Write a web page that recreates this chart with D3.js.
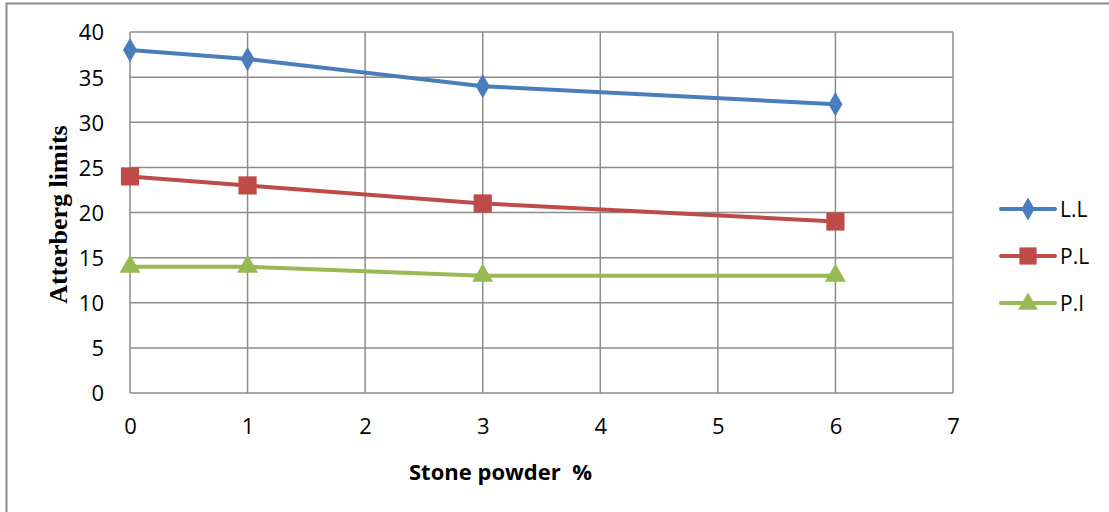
<!DOCTYPE html>
<html>
<head>
<meta charset="utf-8">
<script src="https://cdn.jsdelivr.net/npm/d3@7"></script>
<style>
  body { margin: 0; background: #fff; }
  svg { display: block; }
</style>
</head>
<body>
<div id="chart"></div>
<script>
// data
var stonePowder = [0, 1, 3, 6];
var liquidLimit = [38, 37, 34, 32];
var plasticLimit = [24, 23, 21, 19];
var plasticityIndex = [14, 14, 13, 13];
var seriesNames = ["L.L", "P.L", "P.I"];
var xTicks = [0, 1, 2, 3, 4, 5, 6, 7];
var yTicks = [0, 5, 10, 15, 20, 25, 30, 35, 40];

var svgWidth = 1109;
var svgHeight = 512;

var margin = { top: 32, left: 130, right: 156, bottom: 119 };
var width = svgWidth - margin.left - margin.right;
var height = svgHeight - margin.top - margin.bottom;

var svg = d3.select("#chart")
    .append("svg")
    .attr("width", svgWidth)
    .attr("height", svgHeight);

// outer chart border
svg.append("rect")
    .attr("x", 6.5)
    .attr("y", 3.5)
    .attr("width", svgWidth + 10)
    .attr("height", svgHeight + 10)
    .attr("fill", "none")
    .attr("stroke", "#8c8c8c")
    .attr("stroke-width", 2);

var chartGroup = svg.append("g")
    .attr("transform", `translate(${margin.left}, ${margin.top})`);

var x = d3.scaleLinear().domain([0, 7]).range([0, width]);
var y = d3.scaleLinear().domain([0, 40]).range([height, 0]);

// gridlines
chartGroup.append("g")
    .selectAll("line")
    .data(yTicks)
    .enter()
    .append("line")
    .attr("x1", 0)
    .attr("x2", width)
    .attr("y1", d => y(d))
    .attr("y2", d => y(d))
    .attr("stroke", "#8c8c8c")
    .attr("stroke-width", 1.5);

chartGroup.append("g")
    .selectAll("line")
    .data(xTicks)
    .enter()
    .append("line")
    .attr("x1", d => x(d))
    .attr("x2", d => x(d))
    .attr("y1", 0)
    .attr("y2", height)
    .attr("stroke", "#8c8c8c")
    .attr("stroke-width", 1.5);

// axes (labels only)
var xAxis = d3.axisBottom(x).tickValues(xTicks).tickFormat(d3.format("d")).tickSize(0).tickPadding(25);
var yAxis = d3.axisLeft(y).tickValues(yTicks).tickFormat(d3.format("d")).tickSize(0).tickPadding(26);

var gx = chartGroup.append("g")
    .attr("transform", `translate(0, ${height})`)
    .call(xAxis);
var gy = chartGroup.append("g").call(yAxis);

[gx, gy].forEach(function(g) {
    g.select(".domain").remove();
    g.attr("font-family", "'Open Sans', sans-serif").attr("font-size", 22);
    g.selectAll("text").attr("fill", "#000");
});
gy.selectAll("text").attr("dy", "0.36em");

// axis titles
chartGroup.append("text")
    .attr("x", width / 2 - 41)
    .attr("y", height + 87)
    .attr("text-anchor", "middle")
    .attr("font-family", "'Open Sans', sans-serif")
    .attr("font-weight", "bold")
    .attr("font-size", 22)
    .style("white-space", "pre")
    .text("Stone powder  %");

chartGroup.append("text")
    .attr("transform", "rotate(-90)")
    .attr("x", -(height / 2) - 2)
    .attr("y", -63)
    .attr("text-anchor", "middle")
    .attr("font-family", "'Liberation Serif', 'Times New Roman', serif")
    .attr("font-weight", "bold")
    .attr("font-size", 26)
    .text("Atterberg limits");

var series = [
    { name: seriesNames[0], values: liquidLimit, color: "#4a7ebb", symbol: d3.symbolDiamond, size: 170 },
    { name: seriesNames[1], values: plasticLimit, color: "#be4b48", symbol: d3.symbolSquare, size: 330 },
    { name: seriesNames[2], values: plasticityIndex, color: "#98b954", symbol: d3.symbolTriangle, size: 190 }
];

var line = d3.line()
    .x(d => x(d[0]))
    .y(d => y(d[1]));

series.forEach(function(s) {
    var pts = stonePowder.map((v, i) => [v, s.values[i]]);
    chartGroup.append("path")
        .datum(pts)
        .attr("d", line)
        .attr("fill", "none")
        .attr("stroke", s.color)
        .attr("stroke-width", 4)
        .attr("stroke-linejoin", "round");

    chartGroup.selectAll(null)
        .data(pts)
        .enter()
        .append("path")
        .attr("d", d3.symbol().type(s.symbol).size(s.size))
        .attr("transform", d => `translate(${x(d[0])}, ${y(d[1])})`)
        .attr("fill", s.color);
});

// legend
var legend = svg.append("g")
    .attr("transform", "translate(1001, 209)");

var item = legend.selectAll("g")
    .data(series)
    .enter()
    .append("g")
    .attr("transform", (d, i) => `translate(0, ${i * 47})`);

item.append("line")
    .attr("x1", 0)
    .attr("x2", 54)
    .attr("stroke", d => d.color)
    .attr("stroke-width", 4)
    .attr("stroke-linecap", "round");

item.append("path")
    .attr("d", d => d3.symbol().type(d.symbol).size(d.size * 0.9)())
    .attr("transform", d => d.symbol === d3.symbolTriangle ? "translate(27, 1)" : "translate(27, 0)")
    .attr("fill", d => d.color);

item.append("text")
    .attr("x", 59)
    .attr("dy", "0.36em")
    .attr("font-family", "'Open Sans', sans-serif")
    .attr("font-size", 21)
    .attr("fill", "#000")
    .text(d => d.name);
</script>
</body>
</html>
